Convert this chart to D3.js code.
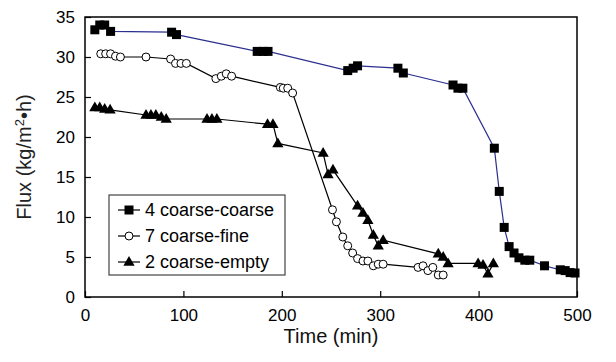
<!DOCTYPE html>
<html>
<head>
<meta charset="utf-8">
<script src="https://cdn.jsdelivr.net/npm/d3@7"></script>
<style>
  body { margin: 0; background: #fff; }
  text { font-family: "Liberation Sans", Arial, sans-serif; fill: #000; }
</style>
</head>
<body>
<div id="chart"></div>
<script>
// Chart size and plot frame.
const WIDTH = 616;
const HEIGHT = 362;
const M = { left: 85, right: 39, top: 17, bottom: 65 };

// Data: time (min) and flux (kg/m2.h).
const coarseTime = [10, 15, 20, 26, 88, 93, 175, 181, 186, 267, 272.5, 277, 318, 323.5, 374, 379, 384,
  416, 421, 426, 431, 436, 441, 447, 452, 467, 483, 488, 493, 498];
const coarseFlux = [33.4, 34, 34, 33.2, 33.1, 32.8, 30.7, 30.7, 30.7, 28.3, 28.6, 28.9, 28.6, 28, 26.5, 26.1, 26.1,
  18.6, 13.2, 8.7, 6.3, 5.5, 4.9, 4.6, 4.6, 3.9, 3.4, 3.3, 3.05, 3.0];

const fineTime = [16, 21, 26, 31, 36, 62, 87, 92, 97.5, 103, 133, 138.5, 143.5, 149, 198.5, 201.5, 206, 211,
  251.5, 255.5, 262, 267, 272, 277, 282.5, 287.5, 293, 298, 303, 338.5, 343.5, 348.5, 353.5, 359, 364];
const fineFlux = [30.4, 30.4, 30.4, 30.1, 30.0, 30.0, 29.75, 29.2, 29.2, 29.2, 27.3, 27.6, 27.9, 27.6, 26.2, 26.1, 26.1, 25.5,
  10.9, 9.4, 7.5, 6.4, 5.5, 4.8, 4.5, 4.5, 3.9, 4.1, 4.1, 3.7, 3.9, 3.3, 3.7, 2.75, 2.75];

const emptyTime = [10, 15, 20, 25.5, 62, 67, 72, 77.5, 82.5, 124, 129, 134, 185.5, 191, 196, 242, 247, 252,
  277, 282.5, 287.5, 293, 298, 303, 359, 364, 369, 399.5, 404.5, 409.5, 415];
const emptyFlux = [23.7, 23.7, 23.5, 23.4, 22.75, 22.75, 22.75, 22.5, 22.25, 22.25, 22.25, 22.25, 21.6, 21.6, 19.2, 18.0, 15.3, 15.9,
  11.4, 10.5, 9.6, 7.75, 6.4, 7.1, 5.4, 5.0, 4.2, 4.2, 4.0, 2.9, 4.2];

const seriesNames = ["4 coarse-coarse", "7 coarse-fine", "2 coarse-empty"];
const xTicks = [0, 100, 200, 300, 400, 500];
const yTicks = [0, 5, 10, 15, 20, 25, 30, 35];

const series = [
  { name: seriesNames[0], time: coarseTime, flux: coarseFlux, marker: "square", line: "#2b2f8f" },
  { name: seriesNames[1], time: fineTime, flux: fineFlux, marker: "circle", line: "#000" },
  { name: seriesNames[2], time: emptyTime, flux: emptyFlux, marker: "triangle", line: "#000" },
];

const svg = d3
  .select("#chart")
  .append("svg")
  .attr("width", WIDTH)
  .attr("height", HEIGHT);

const x = d3.scaleLinear().domain([0, 500]).range([M.left, WIDTH - M.right]);
const y = d3.scaleLinear().domain([0, 35]).range([HEIGHT - M.bottom, M.top]);

// Frame with inward ticks.
svg.append("rect")
  .attr("x", x(0)).attr("y", y(35))
  .attr("width", x(500) - x(0)).attr("height", y(0) - y(35))
  .attr("fill", "none").attr("stroke", "#000").attr("stroke-width", 1.5);

const xAxis = svg.append("g")
  .attr("transform", "translate(0," + y(0) + ")")
  .call(d3.axisBottom(x).tickValues(xTicks).tickSizeInner(-6).tickSizeOuter(0).tickPadding(12));
const yAxis = svg.append("g")
  .attr("transform", "translate(" + x(0) + ",0)")
  .call(d3.axisLeft(y).tickValues(yTicks).tickSizeInner(-6).tickSizeOuter(0).tickPadding(10));

[xAxis, yAxis].forEach((a) => {
  a.select(".domain").remove();
  a.selectAll("line").attr("stroke", "#000").attr("stroke-width", 1.2);
  a.selectAll("text").style("font-size", "17px").style("font-family", "'Liberation Sans', Arial, sans-serif").attr("fill", "#000");
});
xAxis.selectAll("text").attr("dy", "0.71em");

svg.append("text")
  .attr("x", (x(0) + x(500)) / 2).attr("y", 343)
  .attr("text-anchor", "middle").style("font-size", "20px").style("fill", "#111")
  .text("Time (min)");

// Y axis title with superscript.
const yTitle = svg.append("text")
  .attr("transform", "translate(31," + y(17.5) + ") rotate(-90)")
  .attr("text-anchor", "middle").style("font-size", "20px").style("fill", "#222");
yTitle.append("tspan").text("Flux (kg/m");
yTitle.append("tspan").attr("dy", -7).style("font-size", "13px").text("2");
yTitle.append("tspan").attr("dy", 7).text("\u2022h)");

// Marker drawing.
function drawMarker(g, kind, cx, cy) {
  if (kind === "square") {
    g.append("rect").attr("x", cx - 4.5).attr("y", cy - 4.5).attr("width", 9).attr("height", 9).attr("fill", "#000");
  } else if (kind === "circle") {
    g.append("circle").attr("cx", cx).attr("cy", cy).attr("r", 4)
      .attr("fill", "#fff").attr("stroke", "#000").attr("stroke-width", 1);
  } else {
    g.append("path")
      .attr("d", d3.symbol(d3.symbolTriangle, 55)())
      .attr("transform", "translate(" + cx + "," + (cy + 0.5) + ")")
      .attr("fill", "#000");
  }
}

const line = d3.line().x((d) => x(d[0])).y((d) => y(d[1]));

series.forEach((s) => {
  const pts = s.time.map((t, i) => [t, s.flux[i]]);
  svg.append("path")
    .attr("d", line(pts))
    .attr("fill", "none").attr("stroke", s.line).attr("stroke-width", 1.2);
});
series.forEach((s) => {
  const g = svg.append("g");
  s.time.forEach((t, i) => drawMarker(g, s.marker, x(t), y(s.flux[i])));
});

// Legend.
const leg = svg.append("g");
leg.append("rect")
  .attr("x", 109).attr("y", 195).attr("width", 176).attr("height", 80)
  .attr("fill", "#fff").attr("stroke", "#444").attr("stroke-width", 1.2);
series.forEach((s, i) => {
  const ly = 210 + i * 26;
  leg.append("line").attr("x1", 118).attr("x2", 140).attr("y1", ly).attr("y2", ly)
    .attr("stroke", "#000").attr("stroke-width", 1.2);
  drawMarker(leg, s.marker, 129, ly);
  leg.append("text").attr("x", 145).attr("y", ly).attr("dy", "0.35em")
    .style("font-size", "18px").text(s.name);
});
</script>
</body>
</html>
